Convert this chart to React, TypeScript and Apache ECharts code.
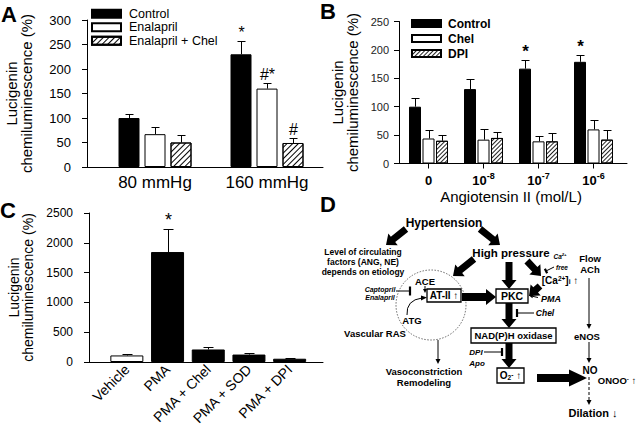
import React, { useEffect, useRef } from 'react';
import * as echarts from 'echarts';

const FONT = '"Liberation Sans", Arial, Helvetica, sans-serif';
const Y_NAME = 'Lucigenin\nchemiluminescence (%)';

// ---------- Panel A ----------
const aCategories = ['80 mmHg', '160 mmHg'];
const aControl = [100, 230];
const aControlSem = [9, 28];
const aEnalapril = [67, 160];
const aEnalaprilSem = [15, 12];
const aEnalChel = [50, 49];
const aEnalChelSem = [16, 11];
const aControlSig = ['', '*'];
const aEnalaprilSig = ['', '#*'];
const aEnalChelSig = ['', '#'];

// ---------- Panel B ----------
const bCategories = ['0', '10^-8', '10^-7', '10^-6'];
const bControl = [100, 131, 167, 179];
const bControlSem = [15, 17, 15, 12];
const bChel = [44, 42, 39, 60];
const bChelSem = [15, 19, 10, 17];
const bDPI = [40, 45, 39, 42];
const bDPISem = [10, 11, 15, 17];
const bControlSig = ['', '', '*', '*'];
const bNone = ['', '', '', ''];

// ---------- Panel C ----------
const cCategories = ['Vehicle', 'PMA', 'PMA + Chel', 'PMA + SOD', 'PMA + DPI'];
const cValues = [110, 1845, 210, 125, 55];
const cSem = [30, 390, 50, 30, 16];
const cSig = ['', '*', '', '', ''];

type SigFont = { size: number; weight: string };

function errorBars(gi: number, means: number[], sems: number[], sig: string[], offset: number, capW: number, sf: SigFont) {
  return {
    type: 'custom',
    xAxisIndex: gi,
    yAxisIndex: gi,
    silent: true,
    z: 4,
    data: means.map((m, i) => [i, m, m + sems[i]]),
    renderItem: (params: any, api: any) => {
      const i = api.value(0);
      const base = api.coord([i, api.value(1)]);
      const top = api.coord([i, api.value(2)]);
      const x = Math.round(base[0] + offset) + 0.5;
      const ty = Math.round(top[1]) + 0.5;
      const children: any[] = [
        { type: 'line', shape: { x1: x, y1: base[1], x2: x, y2: ty }, style: { stroke: '#000', lineWidth: 1 } },
        { type: 'line', shape: { x1: x - capW / 2, y1: ty, x2: x + capW / 2, y2: ty }, style: { stroke: '#000', lineWidth: 1 } },
      ];
      const s = sig[params.dataIndex];
      if (s) {
        children.push({
          type: 'text',
          style: { text: s, x, y: ty - 1, align: 'center', verticalAlign: 'bottom', fill: '#000', fontSize: sf.size, fontWeight: sf.weight, fontFamily: FONT },
        });
      }
      return { type: 'group', children };
    },
  };
}

function bar(name: string, gi: number, data: number[], color: any, barWidth: number, barGap: string, decal?: any) {
  return {
    type: 'bar',
    name,
    xAxisIndex: gi,
    yAxisIndex: gi,
    data,
    barWidth,
    barGap,
    z: 2,
    emphasis: { disabled: true },
    itemStyle: { color, borderColor: '#000', borderWidth: 1, decal },
  };
}

function dummyX(gi: number) {
  return {
    gridIndex: gi, type: 'value', min: 0, max: 1,
    axisLine: { show: true, onZero: false, lineStyle: { color: '#000', width: 1 } },
    axisTick: { show: false }, axisLabel: { show: false }, splitLine: { show: false },
  };
}

function visY(gi: number, max: number, interval: number, labelSize: number, labelColor: string, margin: number, nameGap: number, nameSize: number) {
  return {
    gridIndex: gi, type: 'value', min: 0, max, interval,
    axisLine: { show: true, onZero: false, lineStyle: { color: '#000', width: 1 } },
    axisTick: { show: true, inside: false, length: 5, lineStyle: { color: '#000' } },
    axisLabel: { fontSize: labelSize, color: labelColor, margin, formatter: (v: number) => String(v) },
    splitLine: { show: false },
    name: Y_NAME, nameLocation: 'middle', nameGap,
    nameTextStyle: { fontSize: nameSize, lineHeight: nameSize, color: '#000' },
  };
}

function hidY(gi: number, max: number) {
  return { gridIndex: gi, type: 'value', min: 0, max, show: false };
}

// ---------- diagram helpers (panel D) ----------
function T(x: number, y: number, text: string, size: number, o: any = {}) {
  return {
    type: 'text', x, y, z: 20,
    style: {
      text, fill: '#000', fontFamily: FONT, fontSize: size,
      fontWeight: o.weight || 'bold', fontStyle: o.italic ? 'italic' : 'normal',
      align: o.align || 'center', verticalAlign: 'middle', lineHeight: o.lh, rich: o.rich,
    },
  };
}
function box(x: number, y: number, w: number, h: number) {
  return { type: 'rect', z: 15, shape: { x, y, width: w, height: h }, style: { fill: '#fff', stroke: '#000', lineWidth: 1.3 } };
}
function bigArrow(x1: number, y1: number, x2: number, y2: number, w = 7, hw = 15, hl = 9) {
  const dx = x2 - x1, dy = y2 - y1, L = Math.hypot(dx, dy);
  const ux = dx / L, uy = dy / L, px = -uy, py = ux;
  const bx = x2 - ux * hl, by = y2 - uy * hl;
  const pts = [
    [x1 + px * w / 2, y1 + py * w / 2], [bx + px * w / 2, by + py * w / 2], [bx + px * hw / 2, by + py * hw / 2],
    [x2, y2],
    [bx - px * hw / 2, by - py * hw / 2], [bx - px * w / 2, by - py * w / 2], [x1 - px * w / 2, y1 - py * w / 2],
  ];
  return { type: 'polygon', z: 12, shape: { points: pts }, style: { fill: '#000' } };
}
function thinArrow(x1: number, y1: number, x2: number, y2: number, dashed = false, hw = 5, hl = 5) {
  const dx = x2 - x1, dy = y2 - y1, L = Math.hypot(dx, dy);
  const ux = dx / L, uy = dy / L, px = -uy, py = ux;
  const bx = x2 - ux * hl, by = y2 - uy * hl;
  return {
    type: 'group', z: 12,
    children: [
      { type: 'line', shape: { x1, y1, x2: bx, y2: by }, style: { stroke: '#000', lineWidth: 1, lineDash: dashed ? [3, 2] : null } },
      { type: 'polygon', shape: { points: [[x2, y2], [bx + px * hw / 2, by + py * hw / 2], [bx - px * hw / 2, by - py * hw / 2]] }, style: { fill: '#000' } },
    ],
  };
}
function inhibit(x1: number, y1: number, x2: number, y2: number, bl = 8) {
  const dx = x2 - x1, dy = y2 - y1, L = Math.hypot(dx, dy);
  const px = -dy / L, py = dx / L;
  return {
    type: 'group', z: 12,
    children: [
      { type: 'line', shape: { x1, y1, x2, y2 }, style: { stroke: '#000', lineWidth: 1 } },
      { type: 'line', shape: { x1: x2 + px * bl / 2, y1: y2 + py * bl / 2, x2: x2 - px * bl / 2, y2: y2 - py * bl / 2 }, style: { stroke: '#000', lineWidth: 2.2 } },
    ],
  };
}

const supSub = (size: number, italic = false) => ({
  sup: { fontSize: size * 0.65, fontWeight: 'bold', fontFamily: FONT, fontStyle: italic ? 'italic' : 'normal', verticalAlign: 'top', lineHeight: size * 0.7, fill: '#000' },
  sub: { fontSize: size * 0.65, fontWeight: 'bold', fontFamily: FONT, fontStyle: italic ? 'italic' : 'normal', verticalAlign: 'bottom', lineHeight: size * 0.7, fill: '#000' },
});

function diagram() {
  return [
    T(444, 223, 'Hypertension', 12),
    bigArrow(406, 229, 386, 245),
    bigArrow(480, 229, 500, 245),
    T(363, 262, 'Level of circulating\nfactors (ANG, NE)\ndepends on etiology', 8.5, { lh: 10 }),
    T(511, 253, 'High pressure', 11.5),
    bigArrow(474, 259, 453, 276),
    bigArrow(509, 262, 509, 289),
    bigArrow(527, 261, 541, 276),
    T(560, 256, 'Ca{sup|2+}', 6.5, { italic: true, rich: supSub(6.5, true) }),
    T(562, 267, 'free', 6.5, { italic: true }),
    inhibit(554, 267, 546, 271, 5),
    T(560, 280, '[Ca{sup|2+}]{sub|i} ↑', 10, { rich: supSub(10) }),
    bigArrow(540, 286, 529, 296),
    { type: 'circle', z: 10, shape: { cx: 431, cy: 305, r: 35 }, style: { fill: 'none', stroke: '#444', lineWidth: 0.8, lineDash: [1.5, 1.5] } },
    T(425, 281, 'ACE', 9.5),
    thinArrow(425, 286, 425, 293, false, 4, 4),
    T(380, 293, 'Captopril\nEnalapril', 7, { italic: true, lh: 8 }),
    inhibit(396, 291, 410, 291, 9),
    { type: 'bezierCurve', z: 12, shape: { x1: 407, y1: 315, cpx1: 406, cpy1: 300, x2: 422, y2: 298 }, style: { stroke: '#000', lineWidth: 1, fill: 'none' } },
    { type: 'polygon', z: 12, shape: { points: [[427, 297.5], [421, 295.5], [421, 300.5]] }, style: { fill: '#000' } },
    T(412, 320, 'ATG', 9.5),
    T(375, 333, 'Vascular RAS', 9.5),
    thinArrow(438, 340, 438, 364),
    T(424, 376.5, 'Vasoconstriction\nRemodeling', 9.5, { lh: 11 }),
    bigArrow(462, 297, 496, 297, 8, 16, 10),
    box(427, 289, 34, 13),
    T(444, 295.5, 'AT-II ↑', 10),
    box(496, 289, 32, 14),
    T(512, 296, 'PKC', 10.5),
    thinArrow(538, 297.5, 529, 295.5, false, 4, 4),
    T(551, 299, 'PMA', 9, { italic: true }),
    bigArrow(509, 303, 509, 328),
    inhibit(534, 313, 517, 313, 8),
    T(545, 313, 'Chel', 8.5, { italic: true }),
    box(471, 328, 85, 15),
    T(513.5, 335.5, 'NAD(P)H oxidase', 9.5),
    bigArrow(509, 343, 509, 368),
    T(476, 352, 'DPI', 8, { italic: true }),
    T(477, 363, 'Apo', 8, { italic: true }),
    inhibit(484, 352, 502, 352, 8),
    box(497, 368, 27, 15),
    T(510.5, 375.5, 'O{sub|2}{sup|-} ↑', 10, { rich: supSub(10) }),
    bigArrow(537, 378, 587, 378, 8, 17, 18),
    T(590, 263.5, 'Flow\nACh', 9.5, { lh: 11 }),
    thinArrow(589, 278, 589, 329),
    T(587, 336, 'eNOS', 9.5),
    thinArrow(589, 342, 589, 363),
    T(590, 370, 'NO', 10),
    T(617, 380, 'ONOO{sup|-} ↑', 9.5, { rich: supSub(9.5) }),
    thinArrow(589, 377, 589, 405, true),
    T(593, 413, 'Dilation ↓', 11),
  ];
}

function panelLetter(x: number, y: number, t: string) {
  return { type: 'text', x, y, z: 20, style: { text: t, fill: '#000', fontFamily: FONT, fontSize: 22, fontWeight: 'bold', align: 'left', verticalAlign: 'top' } };
}

function buildOption() {
  const aBW = 21, aGap = 5;
  const bBW = 12, bGap = 1.5;
  const hatchA = { symbol: 'rect', symbolSize: 1, color: '#000', dashArrayX: [1, 0], dashArrayY: [1, 3], rotation: -Math.PI / 4 };
  const hatchB = { symbol: 'rect', symbolSize: 1, color: '#222', dashArrayX: [1, 0], dashArrayY: [1, 1.5], rotation: -Math.PI / 4 };
  const aSig: SigFont = { size: 16, weight: 'normal' };
  const bSig: SigFont = { size: 17, weight: 'bold' };
  const cSigF: SigFont = { size: 18, weight: 'normal' };
  const legendBase = { orient: 'vertical', icon: 'rect', itemGap: 0, padding: 0, selectedMode: false };

  return {
    animation: false,
    backgroundColor: '#fff',
    textStyle: { fontFamily: FONT },
    grid: [
      { left: 87, top: 20, width: 236, height: 147 },
      { left: 99, top: 20, width: 224, height: 147 },
      { left: 399, top: 21.5, width: 228, height: 142 },
      { left: 401, top: 21.5, width: 220, height: 142 },
      { left: 89, top: 213, width: 234, height: 149 },
      { left: 106.5, top: 213, width: 203.5, height: 149 },
    ],
    xAxis: [
      dummyX(0),
      {
        gridIndex: 1, type: 'category', data: aCategories,
        axisLine: { show: false }, axisTick: { show: false },
        axisLabel: { fontSize: 17, color: '#000', margin: 7, interval: 0 },
      },
      dummyX(2),
      {
        gridIndex: 3, type: 'category', data: bCategories,
        axisLine: { show: false },
        axisTick: { show: true, alignWithLabel: true, length: 5, interval: 0, lineStyle: { color: '#000' } },
        axisLabel: {
          margin: 8,
          interval: 0,
          formatter: (v: string) => {
            const [n, e] = v.split('^');
            return e ? `{n|${n}}{s|${e}}` : `{n|${n}}`;
          },
          rich: {
            n: { fontSize: 13, fontWeight: 'bold', color: '#000', lineHeight: 17, fontFamily: FONT },
            s: { fontSize: 9, fontWeight: 'bold', color: '#000', lineHeight: 8, verticalAlign: 'top', fontFamily: FONT },
          },
        },
        name: 'Angiotensin II (mol/L)', nameLocation: 'middle', nameGap: 25,
        nameTextStyle: { fontSize: 15, color: '#000' },
      },
      dummyX(4),
      {
        gridIndex: 5, type: 'category', data: cCategories,
        axisLine: { show: false }, axisTick: { show: false },
        axisLabel: { rotate: 45, fontSize: 14, color: '#000', margin: 5, interval: 0 },
      },
    ],
    yAxis: [
      visY(0, 300, 50, 13, '#000', 16, 53, 15),
      hidY(1, 300),
      visY(2, 250, 50, 11, '#222', 10, 39, 15),
      hidY(3, 250),
      visY(4, 2500, 500, 12, '#000', 16, 54, 14),
      hidY(5, 2500),
    ],
    legend: [
      {
        ...legendBase, left: 91, top: 7, itemWidth: 29, itemHeight: 8,
        data: ['Control', 'Enalapril', 'Enalapril + Chel'],
        textStyle: { fontSize: 12.5, color: '#000', lineHeight: 13.5, padding: [0, 0, 0, 3] },
      },
      {
        ...legendBase, left: 411, top: 16, itemWidth: 29, itemHeight: 7,
        data: ['Control', 'Chel', 'DPI'],
        textStyle: { fontSize: 12, fontWeight: 'bold', color: '#000', lineHeight: 15, padding: [0, 0, 0, 2] },
      },
    ],
    series: [
      bar('Control', 1, aControl, '#000', aBW, `${(aGap / aBW) * 100}%`),
      bar('Enalapril', 1, aEnalapril, '#fff', aBW, `${(aGap / aBW) * 100}%`),
      bar('Enalapril + Chel', 1, aEnalChel, '#fff', aBW, `${(aGap / aBW) * 100}%`, hatchA),
      errorBars(1, aControl, aControlSem, aControlSig, -(aBW + aGap), 8, aSig),
      errorBars(1, aEnalapril, aEnalaprilSem, aEnalaprilSig, 0, 8, aSig),
      errorBars(1, aEnalChel, aEnalChelSem, aEnalChelSig, aBW + aGap, 8, aSig),

      bar('Control', 3, bControl, '#000', bBW, `${(bGap / bBW) * 100}%`),
      bar('Chel', 3, bChel, '#fff', bBW, `${(bGap / bBW) * 100}%`),
      bar('DPI', 3, bDPI, '#fff', bBW, `${(bGap / bBW) * 100}%`, hatchB),
      errorBars(3, bControl, bControlSem, bControlSig, -(bBW + bGap), 8, bSig),
      errorBars(3, bChel, bChelSem, bNone, 0, 8, bSig),
      errorBars(3, bDPI, bDPISem, bNone, bBW + bGap, 8, bSig),

      bar('PMA study', 5, cValues, (p: any) => (p.dataIndex === 0 ? '#fff' : '#000'), 33, '0%'),
      errorBars(5, cValues, cSem, cSig, 0, 10, cSigF),
    ],
    graphic: {
      elements: [
        panelLetter(1, 3, 'A'),
        panelLetter(320, 0, 'B'),
        panelLetter(0, 199, 'C'),
        panelLetter(320, 193, 'D'),
        ...diagram(),
      ],
    },
  };
}

export default function App() {
  const ref = useRef<HTMLDivElement>(null);
  useEffect(() => {
    if (!ref.current) return;
    const chart = echarts.init(ref.current, null, { renderer: 'svg' });
    chart.setOption(buildOption() as any);
    return () => chart.dispose();
  }, []);
  return (
    <div
      ref={ref}
      style={{ position: 'fixed', left: 0, top: 0, width: 640, height: 436, background: '#fff' }}
    />
  );
}
